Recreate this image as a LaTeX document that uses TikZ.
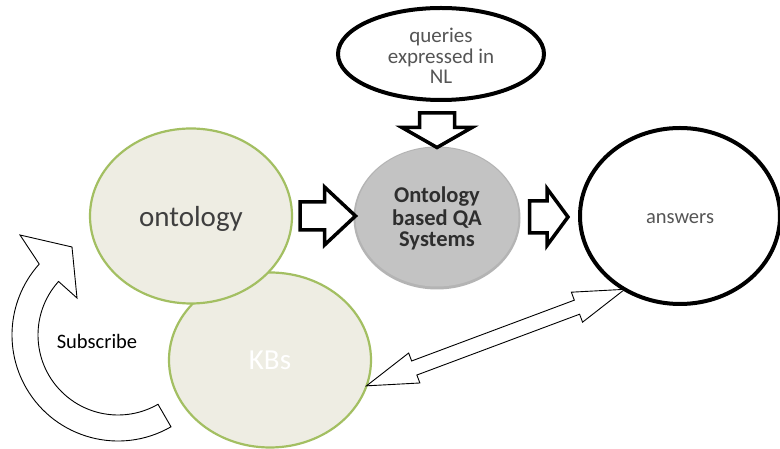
\documentclass[tikz,border=0pt]{standalone}
\usepackage{fontspec}
\setmainfont{Carlito}
\usetikzlibrary{shapes.geometric,calc}

\definecolor{kbfill}{HTML}{EEEDE3}
\definecolor{kbline}{HTML}{A3BF62}
\definecolor{qagray}{HTML}{C3C3C3}
\definecolor{qarim}{HTML}{B4B4B4}
\definecolor{qatext}{HTML}{2E2E2E}
\definecolor{txtgray}{HTML}{555555}
\definecolor{ontext}{HTML}{3F3F3F}

% straight block arrow: [style]{from}{to}{shaft half width}{head half width}{head length}
\newcommand\blkarrow[6][]{%
  \coordinate (hb) at ($(#3)!#6!(#2)$);
  \draw[#1] ($(#2)!#4!90:(#3)$) -- ($(hb)!#4!-90:(#2)$) -- ($(hb)!#5!-90:(#2)$)
    -- (#3) -- ($(hb)!#5!90:(#2)$) -- ($(hb)!#4!90:(#2)$)
    -- ($(#2)!#4!-90:(#3)$) -- cycle;}

% block arrow with a head at both ends
\newcommand\dblblkarrow[6][]{%
  \coordinate (ha) at ($(#2)!#6!(#3)$);
  \coordinate (hz) at ($(#3)!#6!(#2)$);
  \draw[#1] (#2) -- ($(ha)!#5!90:(#3)$) -- ($(ha)!#4!90:(#3)$)
    -- ($(hz)!#4!-90:(#2)$) -- ($(hz)!#5!-90:(#2)$) -- (#3)
    -- ($(hz)!#5!90:(#2)$) -- ($(hz)!#4!90:(#2)$)
    -- ($(ha)!#4!-90:(#3)$) -- ($(ha)!#5!-90:(#3)$) -- cycle;}

% text lowered a little inside its shape, keeping the box size used for centring
\newcommand\low[2]{\raisebox{#1}[\height][\depth]{#2}}
\newcommand\lines[2]{\low{#1}{\begin{tabular}{@{}c@{}}#2\end{tabular}}}

\begin{document}
\begin{tikzpicture}[x=1pt,y=1pt,
  every node/.style={inner sep=0pt, outer sep=0pt},
  kbnode/.style={ellipse, draw=kbline, line width=2.2pt, fill=kbfill,
    minimum width=202pt, minimum height=175pt},
  blacknode/.style={ellipse, draw=black, line width=4pt, fill=white},
  block/.style={draw=black, line width=3.5pt, fill=white, line join=miter},
  thinblock/.style={draw=black, line width=0.9pt, fill=white, line join=miter},
]
\useasboundingbox (0,0) rectangle (780,449);
\fill[white] (0,0) rectangle (780,449);

% main nodes
\node[blacknode, minimum width=206pt, minimum height=92pt,
  font=\fontsize{21}{20.5}\selectfont, text=txtgray]
  (qry) at (441,395) {\lines{-5pt}{queries\\expressed in\\NL}};

\fill[qarim] (437,231) ellipse[x radius=83.5, y radius=71.5];
\node[ellipse, fill=qagray, minimum width=163pt, minimum height=139pt,
  font=\fontsize{22.5}{21.5}\selectfont\bfseries, text=qatext]
  (oqa) at (437,232) {\lines{-3pt}{Ontology\\based QA\\Systems}};

\node[blacknode, minimum width=200pt, minimum height=176pt,
  font=\fontsize{20.5}{24}\selectfont, text=txtgray]
  (ans) at (680,233) {\low{-3pt}{answers}};

\node[kbnode, font=\fontsize{29}{29}\selectfont, text=white] (kbs) at (270,89) {KBs};
\node[kbnode, font=\fontsize{29}{29}\selectfont, text=ontext] (ont) at (191,233)
  {\low{-3pt}{ontology}};

% block arrows
\coordinate (dtop) at ($(oqa.north |- qry.south)+(0,-13)$);
\blkarrow[block]{dtop}{oqa.north}{17.5pt}{35pt}{20pt}

\coordinate (a1s) at ($(ont.east)+(8,0)$);
\coordinate (a1e) at (a1s -| oqa.west);
\blkarrow[block]{a1s}{a1e}{14pt}{29pt}{31pt}

\coordinate (a2s) at ($(oqa.east)+(11,0)$);
\coordinate (a2e) at ($(a2s -| ans.west)+(-12,0)$);
\blkarrow[block]{a2s}{a2e}{16pt}{28.5pt}{21pt}

% two-way arrow between KBs and answers
\coordinate (d1) at (kbs.-15);
\coordinate (d2) at (ans.233);
\dblblkarrow[thinblock]{d1}{d2}{7.5pt}{16pt}{51pt}

% curved Subscribe arrow
\coordinate (sc) at (118,114);
\draw[thinblock] ($(sc)+(-60:106)$) arc[start angle=-60, end angle=-222, radius=106]
  -- (20,214) -- (72,202) -- (77,151) -- ($(sc)+(-222:80)$)
  arc[start angle=-222, end angle=-60, radius=80] -- cycle;
\node[font=\fontsize{20.5}{20.5}\selectfont] (sub) at (97,108) {Subscribe};
\end{tikzpicture}
\end{document}
